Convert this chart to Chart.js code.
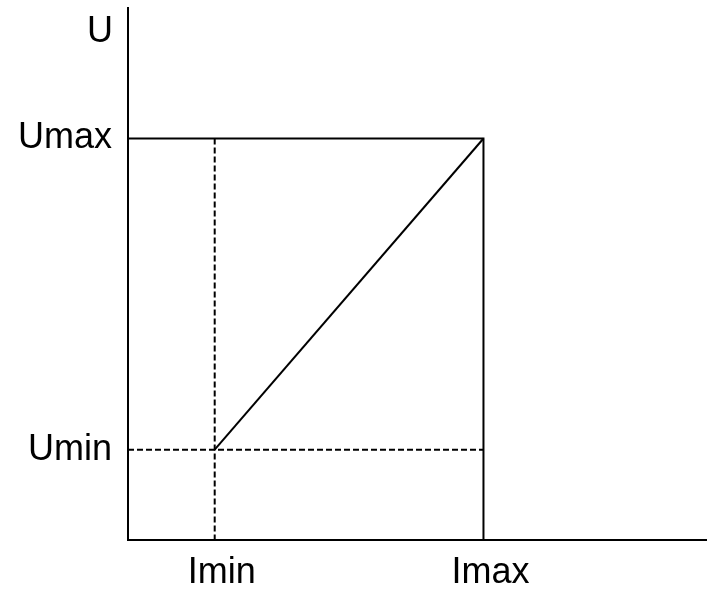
<!DOCTYPE html>
<html>
<head>
<meta charset="utf-8">
<script src="https://cdn.jsdelivr.net/npm/chart.js@4"></script>
<style>
  html, body { margin: 0; padding: 0; background: #fff; }
  #wrap { width: 719px; height: 590px; }
</style>
</head>
<body>
<div id="wrap"><canvas id="uiChart" width="719" height="590"></canvas></div>
<script>
// characteristic values (arbitrary units)
const iMin = 3;
const iMax = 12.3;
const uMin = 1.8;
const uMax = 8;
const xEnd = 20;
const yEnd = 10.6;

const xTickValues = [iMin, iMax];
const xTickLabels = ["Imin", "Imax"];
const yTickValues = [uMin, uMax];
const yTickLabels = ["Umin", "Umax"];
const yAxisName = "U";

const FONT = "'Liberation Sans', Arial, sans-serif";

// "U" name next to the top of the vertical axis
const axisNamePlugin = {
  id: "axisName",
  afterDraw(chart) {
    const ctx = chart.ctx;
    const area = chart.chartArea;
    ctx.save();
    ctx.font = "36px " + FONT;
    ctx.fillStyle = "#000";
    ctx.textAlign = "right";
    ctx.textBaseline = "middle";
    ctx.fillText(yAxisName, area.left - 15, area.top + 24);
    ctx.restore();
  },
};

const solid = { borderColor: "#000", borderWidth: 2, pointRadius: 0, showLine: true, fill: false, tension: 0 };
const dashed = Object.assign({}, solid, { borderDash: [6, 3] });

const ctx = document.getElementById("uiChart").getContext("2d");
const uiChart = new Chart(ctx, {
  type: "scatter",
  data: {
    datasets: [
      Object.assign({ data: [{ x: 0, y: uMax }, { x: iMax, y: uMax }, { x: iMax, y: 0 }] }, solid),
      Object.assign({ data: [{ x: iMin, y: uMin }, { x: iMax, y: uMax }] }, solid),
      Object.assign({ data: [{ x: iMin, y: uMax }, { x: iMin, y: 0 }] }, dashed),
      Object.assign({ data: [{ x: 0, y: uMin }, { x: iMax, y: uMin }] }, dashed),
    ],
  },
  options: {
    responsive: false,
    animation: false,
    layout: { padding: { left: 0, right: 13, top: 8, bottom: 0 } },
    plugins: {
      legend: { display: false },
      tooltip: { enabled: false },
    },
    scales: {
      x: {
        type: "linear",
        min: 0,
        max: xEnd,
        afterBuildTicks: (axis) => {
          axis.ticks = xTickValues.map((v) => ({ value: v }));
        },
        afterFit: (axis) => {
          axis.height = 50;
          axis.paddingLeft = 0;
          axis.paddingRight = 0;
        },
        ticks: {
          autoSkip: false,
          maxRotation: 0,
          color: "#000",
          font: { family: FONT, size: 36 },
          padding: 11,
          labelOffset: 7,
          callback: (v) => xTickLabels[xTickValues.indexOf(v)],
        },
        grid: { display: false, drawTicks: false },
        border: { display: true, color: "#000", width: 2 },
      },
      y: {
        type: "linear",
        min: 0,
        max: yEnd,
        afterBuildTicks: (axis) => {
          axis.ticks = yTickValues.map((v) => ({ value: v }));
        },
        afterFit: (axis) => {
          axis.width = 128;
          axis.paddingTop = 0;
          axis.paddingBottom = 0;
        },
        ticks: {
          autoSkip: false,
          color: "#000",
          font: { family: FONT, size: 36 },
          padding: 16,
          callback: (v) => yTickLabels[yTickValues.indexOf(v)],
        },
        grid: { display: false, drawTicks: false },
        border: { display: true, color: "#000", width: 2 },
      },
    },
  },
  plugins: [axisNamePlugin],
});
</script>
</body>
</html>
